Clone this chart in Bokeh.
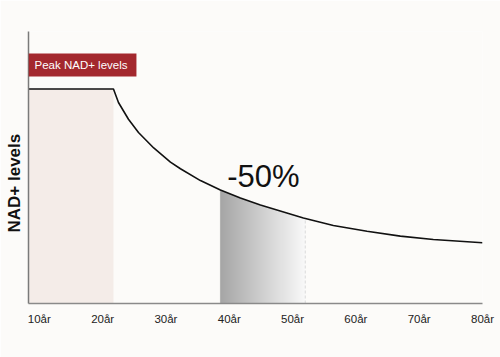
import numpy as np
from bokeh.plotting import figure
from bokeh.models import Range1d, FixedTicker, Label, BoxAnnotation, Title
from bokeh.embed import file_html
from bokeh.resources import INLINE

# ---- data ----
ages = [8.29, 21.71, 22.50, 24.08, 25.66, 28.07, 30.71, 32.29, 35.45, 38.60,
        41.76, 44.92, 51.71, 56.44, 61.76, 67.02, 72.23, 80.0]
levels = [100, 100, 93.7, 85.9, 79.7, 72.5, 65.9, 62.8, 57.3, 52.9,
          49.2, 45.9, 39.9, 36.4, 33.7, 31.4, 29.8, 28.3]
tick_ages = [10, 20, 30, 40, 50, 60, 70, 80]
tick_labels = ["10år", "20år", "30år", "40år", "50år", "60år", "70år", "80år"]
peak_end_age = 21.71
drop_start_age = 38.6
drop_end_age = 52.0
peak_text = "Peak NAD+ levels"
drop_text = "-50%"
y_title = "NAD+ levels"

BG = "#fcfbf9"
FONT = "Liberation Sans"

p = figure(width=500, height=357, output_backend="svg", toolbar_location=None,
           x_range=Range1d(ages[0], ages[-1]), y_range=Range1d(0, 126.8),
           min_border_left=28, min_border_right=18, min_border_top=31,
           min_border_bottom=54, background_fill_color=BG, border_fill_color=BG,
           outline_line_color=None)
p.grid.visible = False

# peak region
p.quad(left=[ages[0]], right=[peak_end_age], bottom=[0], top=[levels[0]],
       fill_color="#f4ece8", line_color=None)

# gradient region under the curve: horizontal gradient image, masked above the curve
y_start = float(np.interp(drop_start_age, ages, levels))
y_end = float(np.interp(drop_end_age, ages, levels))
ncol = 85
t = np.linspace(0, 1, ncol)
vals = np.round(166 + (250 - 166) * t).astype(np.uint8)
img = np.zeros((1, ncol, 4), dtype=np.uint8)
img[0, :, 0] = vals
img[0, :, 1] = vals
img[0, :, 2] = vals
img[0, :, 3] = 255
p.image_rgba(image=[img.view(dtype=np.uint32).reshape((1, ncol))],
             x=drop_start_age, y=0, dw=drop_end_age - drop_start_age, dh=y_start + 1)

mx = [drop_start_age - 0.3] + [a for a in ages if drop_start_age < a < drop_end_age] + [drop_end_age + 0.3]
my = list(np.interp(mx, ages, levels))
p.varea(x=mx, y1=my, y2=[y_start + 3] * len(mx), fill_color=BG)

p.segment(x0=[drop_end_age], y0=[0], x1=[drop_end_age], y1=[y_end],
          line_color="#d9d9d9", line_width=1, line_dash="3 2")
p.segment(x0=[drop_start_age], y0=[0], x1=[drop_start_age], y1=[y_start],
          line_color="#9a9a9a", line_width=1, line_dash="1 1")

# curve
p.line(ages, levels, line_color="#111111", line_width=1.6)

# axes
p.xaxis.ticker = FixedTicker(ticks=tick_ages)
p.xaxis.major_label_overrides = {a: l for a, l in zip(tick_ages, tick_labels)}
p.xaxis.major_tick_line_color = None
p.xaxis.minor_tick_line_color = None
p.xaxis.axis_line_color = "#8a8a8a"
p.xaxis.axis_line_width = 1.5
p.xaxis.major_label_standoff = 3
p.xaxis.major_label_text_font = FONT
p.xaxis.major_label_text_font_size = "11.5px"
p.xaxis.major_label_text_color = "#222222"

p.yaxis.ticker = FixedTicker(ticks=[])
p.yaxis.major_tick_line_color = None
p.yaxis.minor_tick_line_color = None
p.yaxis.major_label_text_font_size = "0px"
p.yaxis.major_label_standoff = 0
p.yaxis.major_tick_out = 0
p.yaxis.axis_line_color = "#7a7a7a"
p.yaxis.axis_line_width = 1.5

p.add_layout(Title(text=y_title, align="left", offset=71, standoff=6,
                   vertical_align="top",
                   text_font=FONT, text_font_style="bold",
                   text_font_size="17px", text_color="#111111"), "left")

# annotations
p.add_layout(BoxAnnotation(left=ages[0], right=25.34, top=116.6, bottom=105.8,
                           fill_color="#a3282e", fill_alpha=1.0, line_color=None))
p.add_layout(Label(x=ages[0], y=111.2, x_offset=6, text=peak_text,
                   text_color="white", text_font=FONT, text_font_size="11.5px",
                   text_baseline="middle"))
p.add_layout(Label(x=45.39, y=59.2, text=drop_text, text_color="#111111",
                   text_font=FONT, text_font_size="31px", text_align="center",
                   text_baseline="alphabetic"))

open("out.html", "w").write(file_html(p, INLINE))
